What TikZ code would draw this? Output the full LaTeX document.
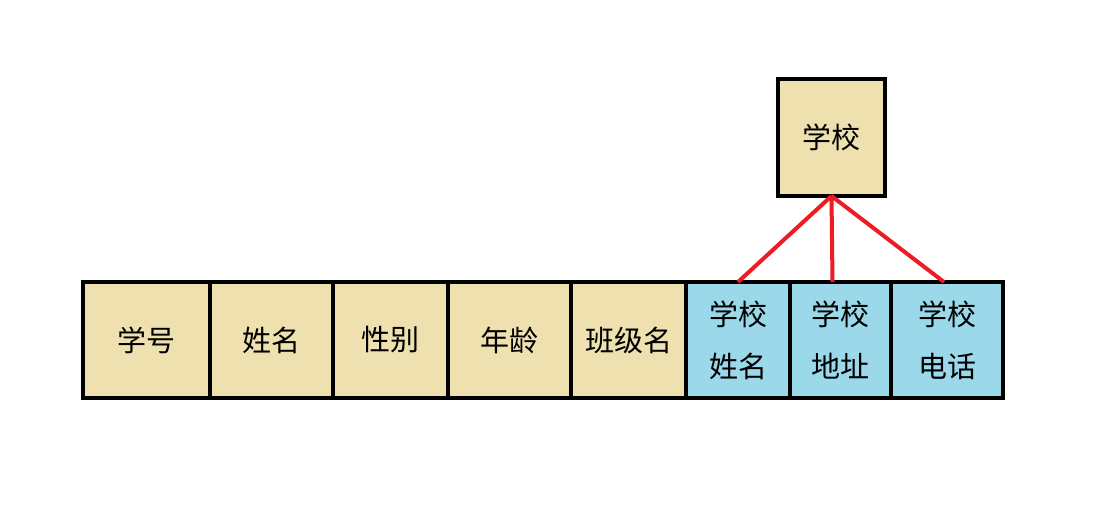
\documentclass[tikz,border=0pt]{standalone}
\usepackage{fontspec}
\newfontfamily\cjk{Noto Sans CJK SC}
\definecolor{beige}{HTML}{EEE1AF}
\definecolor{skyb}{HTML}{9BD8EA}
\definecolor{linkred}{HTML}{ED1C24}
\begin{document}
\begin{tikzpicture}[x=1pt,y=-1pt,
  box/.style={draw=black,line width=4pt,inner sep=0pt,outer sep=0pt,font=\cjk\fontsize{29}{52}\selectfont,align=center,minimum height=116pt},
  tan/.style={box,fill=beige},
  blu/.style={box,fill=skyb},
  link/.style={draw=linkred,line width=4pt}]
\useasboundingbox (0,0) rectangle (1108,508);
\node[tan,minimum width=127pt] (c1) at (146.5,340) {学号};
\node[tan,minimum width=123pt] (c2) at (271.5,340) {姓名};
\node[tan,minimum width=115pt] (c3) at (390.5,340) {性别};
\node[tan,minimum width=123pt] (c4) at (509.5,340) {年龄};
\node[tan,minimum width=115pt] (c5) at (628.5,340) {班级名};
\node[blu,minimum width=104pt] (c6) at (738,340) {学校\\姓名};
\node[blu,minimum width=101pt] (c7) at (840.5,340) {学校\\地址};
\node[blu,minimum width=112pt] (c8) at (947,340) {学校\\电话};
\node[tan,minimum width=107pt,minimum height=117pt] (s) at (831.5,137.5) {学校};
\draw[link] (s.south) -- (c6.north);
\draw[link] (s.south) -- ([xshift=-8pt]c7.north);
\draw[link] (s.south) -- ([xshift=-3pt]c8.north);
\end{tikzpicture}
\end{document}
